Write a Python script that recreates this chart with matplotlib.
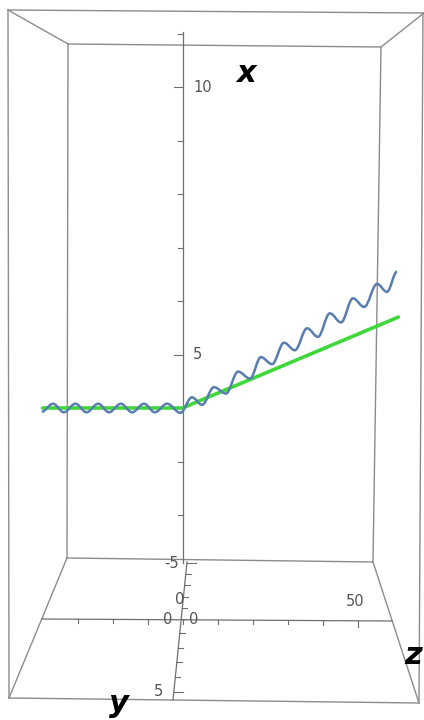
import matplotlib
matplotlib.use("Agg")
import matplotlib.pyplot as plt
from matplotlib.path import Path
from matplotlib.patches import PathPatch

# Curves: z (horizontal) against x (vertical)
green_z = [-40.0, 0.0, 61.7]
green_x = [4.0, 4.0, 5.70]

# Blue curve: local peaks / troughs in order, last point is the end of the curve
blue_z = [-40.2, -37.0, -33.9, -30.6, -27.4, -24.1, -21.0, -17.6, -14.4,
          -11.0, -7.9, -4.4, -0.6, 2.7, 5.6, 9.0, 12.4, 15.9, 19.3, 22.4,
          25.6, 29.0, 32.1, 35.6, 38.7, 42.1, 45.3, 48.7, 51.9, 55.6, 58.4, 61.3]
blue_x = [3.93, 4.08, 3.92, 4.08, 3.92, 4.08, 3.92, 4.08, 3.92,
          4.08, 3.92, 4.08, 3.91, 4.20, 4.06, 4.39, 4.27, 4.68, 4.55, 4.95,
          4.82, 5.22, 5.08, 5.49, 5.33, 5.77, 5.60, 6.05, 5.89, 6.32, 6.17, 6.55]

x_ticks = [2, 3, 4, 5, 6, 7, 8, 9, 10, 11]
x_labels = {5: "5", 10: "10"}
z_ticks = [-30, -20, -10, 0, 10, 20, 30, 40, 50]

fig = plt.figure(figsize=(4.24, 7.2), dpi=100)

# Pixel overlay for the perspective box
bg = fig.add_axes([0, 0, 1, 1])
bg.set_xlim(0, 424)
bg.set_ylim(720, 0)
bg.axis("off")

box = [
    ((8, 10), (424, 13)), ((68, 44), (381, 47)),
    ((8, 10), (68, 44)), ((424, 13), (381, 47)),
    ((8, 10), (9, 698)), ((68, 44), (67, 558)),
    ((67, 558), (373, 562)), ((381, 47), (373, 562)),
    ((423, 13), (419, 703)), ((67, 558), (9, 698)),
    ((373, 562), (419, 703)), ((9, 698), (419, 703)),
]
for (a, b) in box:
    bg.plot([a[0], b[0]], [a[1], b[1]], color="#8c8c8c", lw=1.0)

# floor z-axis
bg.plot([42, 392], [619, 621], color="#6e6e6e", lw=0.9)
# y-axis going into depth
bg.plot([187, 173], [562, 700], color="#6e6e6e", lw=0.9)
for py in [563, 574, 585, 597, 608, 619, 633, 648, 662, 677, 692]:
    px = 187 + (173 - 187) * (py - 562) / (700 - 562)
    ln = 9 if py in (563, 692) else 5
    bg.plot([px, px + ln], [py, py], color="#6e6e6e", lw=0.8)

tk = dict(color="#555555", fontsize=10.5, family="DejaVu Sans")
bg.text(172, 563, "-5", ha="center", va="center", **tk)
bg.text(180, 599, "0", ha="center", va="center", **tk)
bg.text(168, 619, "0", ha="center", va="center", **tk)
bg.text(194, 619, "0", ha="center", va="center", **tk)
bg.text(158, 692, "5", ha="center", va="center", **tk)
bg.text(355, 602, "50", ha="center", va="center", **tk)

lab = dict(fontsize=22, fontweight="bold", style="italic", color="black",
           family="DejaVu Sans")
bg.text(246, 74, "x", ha="center", va="center", **lab)
bg.text(119, 704, "y", ha="center", va="center", **lab)
bg.text(413, 656, "z", ha="center", va="center", **lab)

# Data axes: z horizontal, x vertical
ax = fig.add_axes([0, 0, 1, 1])
ax.set_xlim(-182.5 / 3.5, 241.5 / 3.5)
ax.set_ylim((622 - 720) / 53.5, 622 / 53.5)
ax.axis("off")
ax.patch.set_alpha(0)

# vertical x axis at z = 0
ax.plot([0, 0], [1.1, 11.03], color="#6e6e6e", lw=0.9)
for t in x_ticks:
    ln = 2.3 if t in x_labels else 1.4
    ax.plot([-ln, 0], [t, t], color="#6e6e6e", lw=0.8)
    if t in x_labels:
        ax.text(3.0, t, x_labels[t], ha="left", va="center", **tk)

# z-axis ticks on the floor line
for t in z_ticks:
    y0 = (622 - 619.5 - 0.02 * t) / 53.5
    ln = 0.13 if t == 50 else 0.08
    ax.plot([t, t], [y0, y0 - ln], color="#6e6e6e", lw=0.8)

# green curve
ax.plot(green_z, green_x, color="#3fd83a", lw=2.6, solid_capstyle="round",
        zorder=3)

# blue curve: smooth path through the read peaks and troughs
verts = [(blue_z[0], blue_x[0])]
codes = [Path.MOVETO]
for i in range(1, len(blue_z)):
    z0, x0 = blue_z[i - 1], blue_x[i - 1]
    z1, x1 = blue_z[i], blue_x[i]
    d = 0.36 * (z1 - z0)
    verts += [(z0 + d, x0), (z1 - d, x1), (z1, x1)]
    codes += [Path.CURVE4] * 3
ax.add_patch(PathPatch(Path(verts, codes), fill=False, edgecolor="#5a7db0",
                       lw=1.8, zorder=4))

fig.savefig("out.png", dpi=100)
